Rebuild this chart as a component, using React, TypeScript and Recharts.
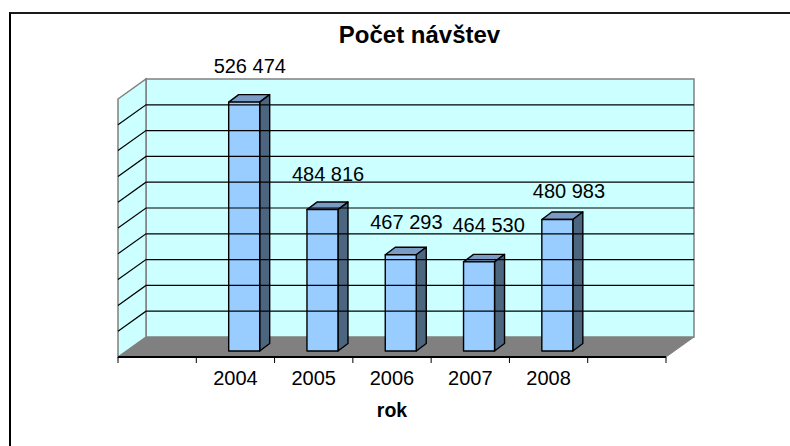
import React from "react";
import { ComposedChart, Bar, XAxis, YAxis, LabelList, ReferenceArea, ReferenceLine } from "recharts";

const categories = ["", "2004", "2005", "2006", "2007", "2008", " "];
const visits = [null, 526474, 484816, 467293, 464530, 480983, null];
const yTicks = [440000, 450000, 460000, 470000, 480000, 490000, 500000, 510000, 520000];
const labelLift = [35, 35, 32, 36, 27];
const labelShift = [0, 0, 0, 4, 6];

const data = categories.map((rok, i) => ({ rok, visits: visits[i] }));

const FONT = "Liberation Sans, Arial, sans-serif";
const DX = 28;
const DY = 20;
const BAR_DX = 8.4;
const BAR_DY = 6;
const BOX_DX = 10;
const BOX_DY = 7.5;

const fmt = (v: number) => String(v).replace(/(\d{3})$/, " $1");

function Walls(props: any) {
  const { x, y, width, height } = props;
  const b = y + height;
  return (
    <g>
      <polygon points={`${x},${b} ${x + DX},${b - DY} ${x + width + DX},${b - DY} ${x + width},${b}`} fill="#808080" stroke="#808080" />
      <rect x={x + DX} y={y - DY} width={width} height={height} fill="#ccffff" stroke="#808080" strokeWidth={1.5} />
      <polygon points={`${x},${y} ${x + DX},${y - DY} ${x + DX},${b - DY} ${x},${b}`} fill="#ccffff" stroke="#808080" strokeWidth={1.5} />
    </g>
  );
}

function GridLine(props: any) {
  const { x1, x2, y1 } = props;
  return (
    <polyline points={`${x1},${y1} ${x1 + DX},${y1 - DY} ${x2 + DX},${y1 - DY}`} fill="none" stroke="#000" strokeWidth={1.2} />
  );
}

function Box(props: any) {
  const { x, y, width, height, value } = props;
  if (value == null) return <g />;
  const l = x + BAR_DX;
  const r = l + width;
  const t = y - BAR_DY;
  const b = t + height;
  return (
    <g stroke="#000" strokeWidth={1.4} strokeLinejoin="round">
      <polygon points={`${l},${t} ${l + BOX_DX},${t - BOX_DY} ${r + BOX_DX},${t - BOX_DY} ${r},${t}`} fill="#7a9cc4" />
      <polygon points={`${r},${t} ${r + BOX_DX},${t - BOX_DY} ${r + BOX_DX},${b - BOX_DY} ${r},${b}`} fill="#4d6680" />
      <rect x={l} y={t} width={width} height={height} fill="#99ccff" />
    </g>
  );
}

function ValueLabel(props: any) {
  const { x, y, width, value, index } = props;
  if (value == null) return null;
  return (
    <text x={x + width / 2 + 14 + labelShift[index]} y={y - labelLift[index]} textAnchor="middle" fontFamily={FONT} fontSize={20} fill="#000">
      {fmt(value)}
    </text>
  );
}

function YearTick(props: any) {
  const { x, y, payload, index, width } = props;
  const half = width / categories.length / 2;
  return (
    <g>
      <line x1={x - half} x2={x - half} y1={357} y2={363} stroke="#000" />
      {index === categories.length - 1 ? <line x1={x + half} x2={x + half} y1={357} y2={363} stroke="#000" /> : null}
      <text x={x} y={y + 20} textAnchor="middle" fontFamily={FONT} fontSize={20} fill="#000">
        {payload.value}
      </text>
    </g>
  );
}

export default function App() {
  return (
    <div style={{ width: 790, height: 446, position: "absolute", left: 0, top: 0, background: "#fff" }}>
      <div style={{ position: "absolute", left: 9, top: 12, right: 0, bottom: 0, borderTop: "2px solid #1a1a1a", borderLeft: "2px solid #000", boxSizing: "border-box" }} />
      <div style={{ position: "absolute", left: 0, top: 0 }}>
        <ComposedChart
          width={790}
          height={446}
          data={data}
          margin={{ top: 99, left: 118, right: 124, bottom: 0 }}
        >
          <XAxis
            dataKey="rok"
            height={89}
            interval={0}
            tickLine={false}
            tickSize={6}
            axisLine={{ stroke: "#000", strokeWidth: 2 }}
            tick={<YearTick />}
            label={{ value: "rok", position: "insideBottom", offset: 29, fontFamily: FONT, fontSize: 19.5, fontWeight: 700, fill: "#000" }}
          />
          <YAxis hide domain={[430000, 530000]} />
          <ReferenceArea x1="" x2=" " y1={430000} y2={530000} shape={<Walls />} ifOverflow="visible" />
          {yTicks.map((t) => (
            <ReferenceLine key={t} y={t} shape={<GridLine />} ifOverflow="visible" />
          ))}
          <Bar dataKey="visits" shape={<Box />} barSize={31} isAnimationActive={false}>
            <LabelList dataKey="visits" content={<ValueLabel />} />
          </Bar>
          <text x={419.5} y={43} textAnchor="middle" fontFamily={FONT} fontSize={24} fontWeight={700} fill="#000">
            Počet návštev
          </text>
        </ComposedChart>
      </div>
    </div>
  );
}
